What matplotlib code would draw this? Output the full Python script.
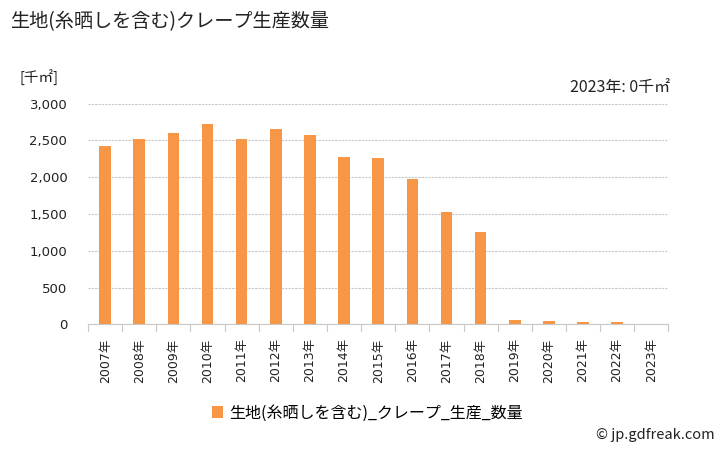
import matplotlib
matplotlib.use('Agg')
import matplotlib.pyplot as plt

plt.rcParams['font.family'] = ['Noto Sans CJK JP', 'DejaVu Sans']
NUM_FONT = ['DejaVu Sans', 'Noto Sans CJK JP']

# --- datos ---
years = ['2007年', '2008年', '2009年', '2010年', '2011年', '2012年', '2013年', '2014年',
         '2015年', '2016年', '2017年', '2018年', '2019年', '2020年', '2021年', '2022年', '2023年']
values = [2423, 2518, 2599, 2720, 2518, 2653, 2572, 2274,
          2261, 1977, 1531, 1261, 58, 45, 31, 31, 0]
yticks = [0, 500, 1000, 1500, 2000, 2500, 3000]

title = '生地(糸晒しを含む)クレープ生産数量'
series_name = '生地(糸晒しを含む)_クレープ_生産_数量'
unit = '[千㎡]'
last_note = '2023年: 0千㎡'

BAR_COLOR = '#F79646'
GRID_COLOR = '#C8C8C8'

fig = plt.figure(figsize=(7.28, 4.5), dpi=100)
ax = fig.add_axes([0.121, 0.279, 0.797, 0.491])

x = range(len(years))
ax.bar(x, values, width=0.34, color=BAR_COLOR, label=series_name, zorder=3)

ax.set_xlim(-0.5, len(years) - 0.5)
ax.set_ylim(0, 3000)
ax.set_yticks(yticks)
ax.set_yticklabels([f'{v:,}' for v in yticks], fontsize=9.5, color='#222222', family=NUM_FONT)
ax.yaxis.grid(True, color=GRID_COLOR, linestyle=(0, (2, 1)), linewidth=0.8, zorder=0)
ax.tick_params(axis='y', length=0, pad=15)

ax.set_xticks(list(x))
ax.set_xticklabels(years, rotation=90, fontsize=9, color='#222222', family=NUM_FONT)
ax.tick_params(axis='x', length=0, pad=10)
# marcas entre categorias
for i in range(len(years) + 1):
    ax.plot([i - 0.5, i - 0.5], [0, -0.03], transform=ax.get_xaxis_transform(),
            color=GRID_COLOR, linewidth=0.8, clip_on=False)

for s in ['top', 'right', 'left']:
    ax.spines[s].set_visible(False)
ax.spines['bottom'].set_color(GRID_COLOR)

fig.text(0.014, 0.951, title, fontsize=13.8, ha='left', va='center', color='#222222')
fig.text(0.027, 0.827, unit, fontsize=10.5, ha='left', va='center', color='#222222')
fig.text(0.921, 0.806, last_note, fontsize=11.5, ha='right', va='center', color='#222222')
fig.text(0.982, 0.033, '© jp.gdfreak.com', fontsize=10.5, ha='right', va='center', color='#222222')

fig.legend(loc='center', bbox_to_anchor=(0.505, 0.082), frameon=False, fontsize=11.5,
           handlelength=0.7, handleheight=0.7, handletextpad=0.4)

fig.savefig('out.png', dpi=100)
